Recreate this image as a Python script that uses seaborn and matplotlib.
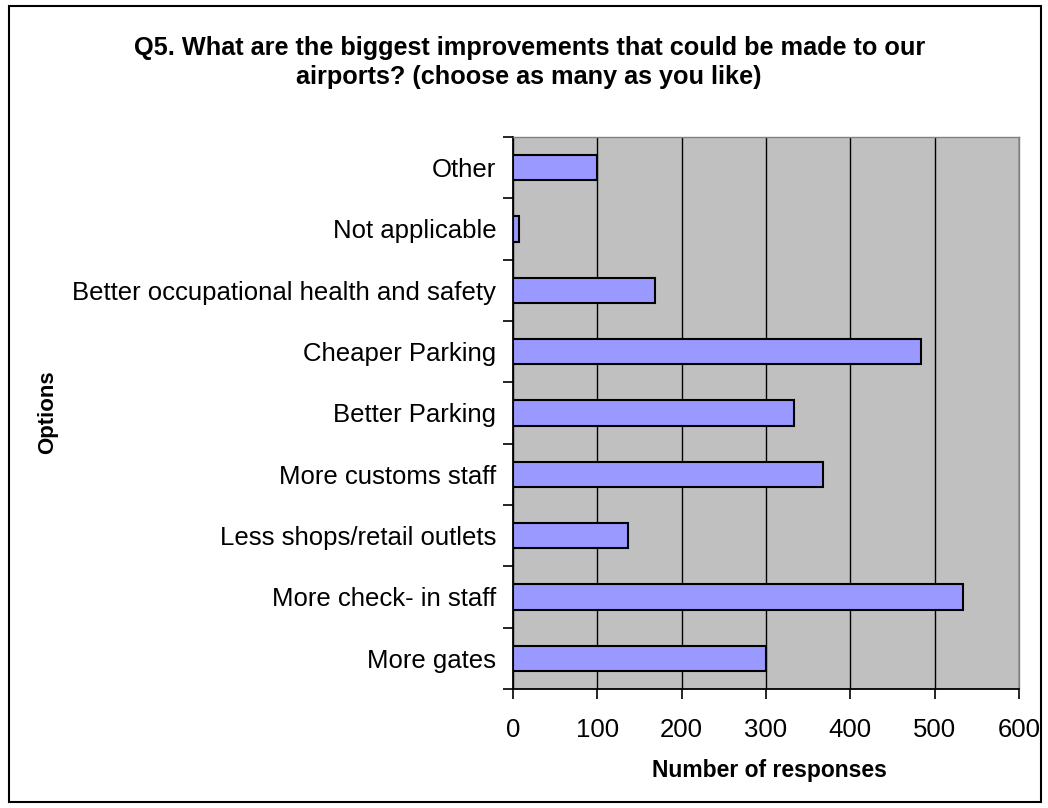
import matplotlib as mpl
mpl.use('Agg')
import matplotlib.pyplot as plt
import numpy as np
import pandas as pd
import seaborn as sns
from matplotlib.patches import Rectangle
from matplotlib.ticker import FixedLocator

# ── Data (top to bottom, as in the chart) ────────────────────────────────
options = ['Other', 'Not applicable', 'Better occupational health and safety',
           'Cheaper Parking', 'Better Parking', 'More customs staff',
           'Less shops/retail outlets', 'More check- in staff', 'More gates']
responses = [100, 7, 168, 484, 333, 368, 136, 534, 300]
x_ticks = [0, 100, 200, 300, 400, 500, 600]

title = ('Q5. What are the biggest improvements that could be made to our\n'
         'airports? (choose as many as you like)')

# ── Style ────────────────────────────────────────────────────────────────
sns.set_theme(style='white')
plt.rcParams['font.family'] = ['Liberation Sans', 'DejaVu Sans']
plt.rcParams['text.color'] = 'black'
plt.rcParams['axes.labelcolor'] = 'black'

df = pd.DataFrame({'Options': options, 'Responses': responses})

fig = plt.figure(figsize=(10.48, 8.08), dpi=100)
ax = fig.add_axes([0.4895, 0.1473, 0.4828, 0.6832])
ax.set_facecolor('#C0C0C0')

sns.barplot(data=df, x='Responses', y='Options', order=options,
            color='#9999FF', saturation=1, width=0.41,
            edgecolor='black', linewidth=1.5, ax=ax, zorder=3)

ax.set_xlim(0, 600)
ax.set_ylim(len(options) - 0.5, -0.5)
ax.set_xticks(x_ticks)
ax.xaxis.grid(True, color='black', linewidth=1.0)
ax.yaxis.grid(False)
ax.set_axisbelow(True)

# tick marks between categories, labels centred on them
ax.yaxis.set_minor_locator(FixedLocator(np.arange(-0.5, len(options), 1.0)))
ax.tick_params(axis='y', which='major', length=0, pad=12, labelsize=18.5,
               colors='black')
ax.tick_params(axis='y', which='minor', length=7, width=1.2, color='black',
               direction='out', left=True)
ax.tick_params(axis='x', which='major', length=7, width=1.2, color='black',
               direction='out', bottom=True, pad=14, labelsize=18.5,
               labelcolor='black')

for side in ['top', 'right']:
    ax.spines[side].set_color('#808080')
    ax.spines[side].set_linewidth(1.0)
for side in ['left', 'bottom']:
    ax.spines[side].set_color('black')
    ax.spines[side].set_linewidth(1.3)

ax.set_xlabel('')
ax.set_ylabel('')
fig.text(0.7345, 1 - 770 / 808, 'Number of responses', fontsize=16.5,
         fontweight='bold', ha='center', va='center')
fig.text(0.045, 0.49, 'Options', rotation=90, fontsize=16,
         fontweight='bold', ha='center', va='center')

fig.text(0.505, 1 - 62.5 / 808, title, ha='center', va='center',
         fontsize=18.2, fontweight='bold', linespacing=1.3)

# outer chart frame
fig.patches.append(Rectangle((0.0086, 0.008), 0.9848, 0.984,
                             transform=fig.transFigure, fill=False,
                             edgecolor='black', linewidth=1.5))

fig.savefig('out.png', dpi=100)
